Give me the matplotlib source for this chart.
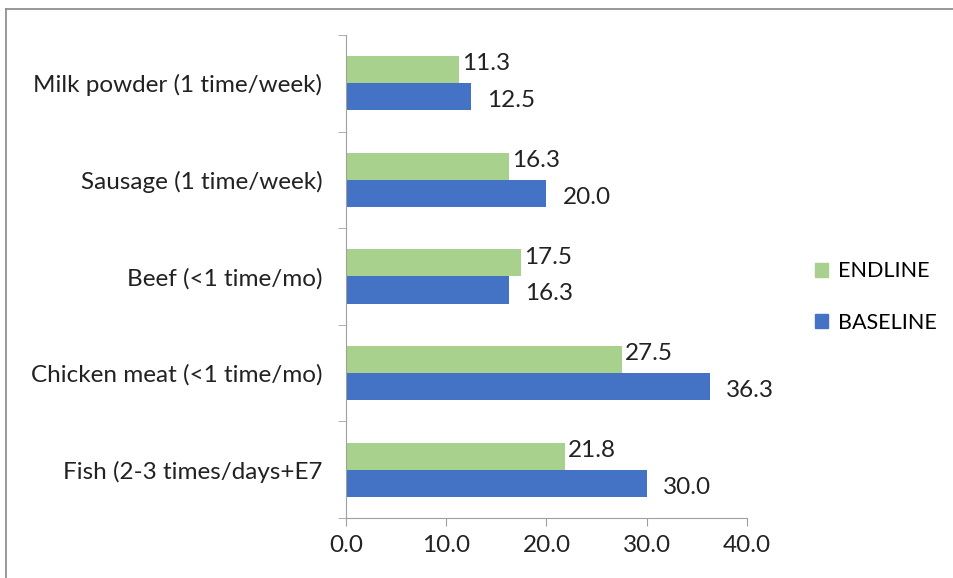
import numpy as np
import matplotlib
matplotlib.use('Agg')
import matplotlib.pyplot as plt
from matplotlib.lines import Line2D

plt.rcParams['font.family'] = ['Lato', 'DejaVu Sans']

categories = ['Milk powder (1 time/week)', 'Sausage (1 time/week)', 'Beef (<1 time/mo)',
              'Chicken meat (<1 time/mo)', 'Fish (2-3 times/days+E7']
endline = [11.3, 16.3, 17.5, 27.5, 21.8]
baseline = [12.5, 20.0, 16.3, 36.3, 30.0]
xticks = [0, 10, 20, 30, 40]

green = '#a9d18e'
blue = '#4472c4'
fs = 17.5

fig = plt.figure(figsize=(9.54, 5.78), dpi=100)
ax = fig.add_axes([346/954, 1 - 518/578, (747 - 346)/954, (518 - 35)/578])

n = len(categories)
y = np.arange(n)[::-1].astype(float)
h = 0.28

ax.barh(y + h/2, endline, height=h, color=green, label='ENDLINE')
ax.barh(y - h/2, baseline, height=h, color=blue, label='BASELINE')

for yi, v in zip(y, endline):
    ax.text(v + 0.3, yi + h/2 + 0.06, f'{v:.1f}', va='center', ha='left', fontsize=fs, color='#222222')
for yi, v in zip(y, baseline):
    ax.text(v + 1.6, yi - h/2 - 0.04, f'{v:.1f}', va='center', ha='left', fontsize=fs, color='#222222')

ax.set_xlim(0, 40)
ax.set_ylim(-0.5, n - 0.5)
ax.set_xticks(xticks)
ax.set_xticklabels([f'{t:.1f}' for t in xticks], fontsize=fs, color='#222222')
ax.set_yticks(y)
ax.set_yticklabels(categories, fontsize=fs, color='#222222')
ax.set_yticks(np.arange(n + 1) - 0.5, minor=True)
ax.tick_params(axis='y', which='major', length=0, pad=17)
ax.tick_params(axis='y', which='minor', length=6, color='#a0a0a0')
ax.tick_params(axis='x', length=6, color='#a0a0a0', pad=6)

for s in ['top', 'right']:
    ax.spines[s].set_visible(False)
for s in ['left', 'bottom']:
    ax.spines[s].set_color('#a0a0a0')

handles = [plt.Rectangle((0, 0), 1, 1, color=green), plt.Rectangle((0, 0), 1, 1, color=blue)]
fig.legend(handles, ['ENDLINE', 'BASELINE'], loc='center left', bbox_to_anchor=(815/954, 1 - 297/578),
           frameon=False, fontsize=15.5, handlelength=0.6, handleheight=0.6, labelspacing=1.45,
           handletextpad=0.45, borderpad=0, borderaxespad=0)

# frame lines along top and left edges
fig.add_artist(Line2D([6/954, 1], [1 - 9/578, 1 - 9/578], transform=fig.transFigure, color='#888888', lw=1.2))
fig.add_artist(Line2D([6/954, 6/954], [0, 1 - 9/578], transform=fig.transFigure, color='#888888', lw=1.2))

fig.savefig('out.png', dpi=100)
